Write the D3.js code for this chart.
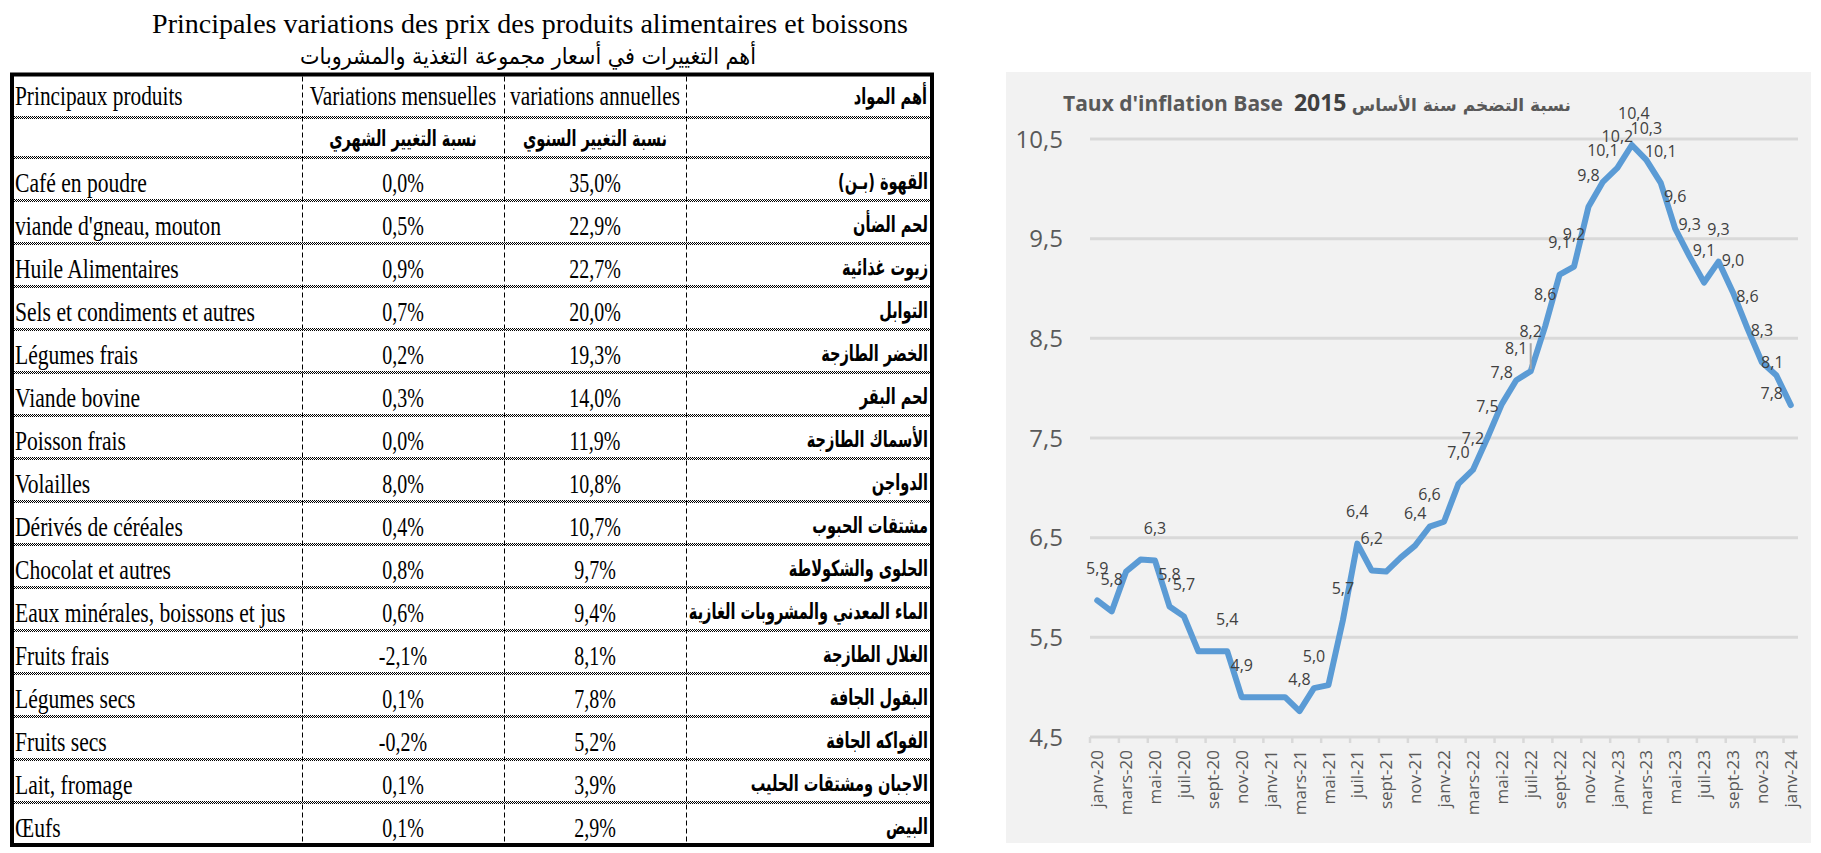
<!DOCTYPE html>
<html><head><meta charset="utf-8">
<script src="https://cdn.jsdelivr.net/npm/d3@7"></script>
<style>html,body{margin:0;padding:0;background:#fff;} svg{display:block;}</style>
</head><body><svg id="c" width="1821" height="853"></svg>
<script>
// ---------------- DATA ----------------
const titleFr = "Principales variations des prix des produits alimentaires et boissons";
const titleAr = "أهم التغييرات في أسعار مجموعة التغذية والمشروبات";
const headerFr = ["Principaux produits", "Variations mensuelles", "variations annuelles"];
const headerAr = ["أهم المواد", "نسبة التغيير الشهري", "نسبة التغيير السنوي"];
const productsFr = ["Café en poudre", "viande d'gneau, mouton", "Huile Alimentaires", "Sels et condiments et autres",
  "Légumes frais", "Viande bovine", "Poisson frais", "Volailles", "Dérivés de céréales", "Chocolat et autres",
  "Eaux minérales, boissons et jus", "Fruits frais", "Légumes secs", "Fruits secs", "Lait, fromage", "Œufs"];
const productsAr = ["القهوة (بـن)", "لحم الضأن", "زيوت غذائية", "التوابل", "الخضر الطازجة", "لحم البقر",
  "الأسماك الطازجة", "الدواجن", "مشتقات الحبوب", "الحلوى والشكولاطة", "الماء المعدني والمشروبات الغازية",
  "الغلال الطازجة", "البقول الجافة", "الفواكه الجافة", "الاجبان ومشتقات الحليب", "البيض"];
const monthlyChange = [0.0, 0.5, 0.9, 0.7, 0.2, 0.3, 0.0, 8.0, 0.4, 0.8, 0.6, -2.1, 0.1, -0.2, 0.1, 0.1];
const annualChange = [35.0, 22.9, 22.7, 20.0, 19.3, 14.0, 11.9, 10.8, 10.7, 9.7, 9.4, 8.1, 7.8, 5.2, 3.9, 2.9];

const chartTitleFr = "Taux d'inflation Base";
const chartTitleYear = "2015";
const chartTitleAr = "نسبة التضخم سنة الأساس";
const months = ["janv-20","févr-20","mars-20","avr-20","mai-20","juin-20","juil-20","août-20","sept-20","oct-20","nov-20","déc-20",
  "janv-21","févr-21","mars-21","avr-21","mai-21","juin-21","juil-21","août-21","sept-21","oct-21","nov-21","déc-21",
  "janv-22","févr-22","mars-22","avr-22","mai-22","juin-22","juil-22","août-22","sept-22","oct-22","nov-22","déc-22",
  "janv-23","févr-23","mars-23","avr-23","mai-23","juin-23","juil-23","août-23","sept-23","oct-23","nov-23","déc-23",
  "janv-24"];
const inflation = [5.87, 5.76, 6.16, 6.28, 6.27, 5.81, 5.71, 5.36, 5.36, 5.36, 4.90, 4.90,
  4.90, 4.90, 4.76, 4.99, 5.02, 5.67, 6.44, 6.17, 6.16, 6.30, 6.42, 6.61,
  6.66, 7.04, 7.18, 7.50, 7.84, 8.08, 8.17, 8.62, 9.14, 9.22, 9.82, 10.07,
  10.21, 10.44, 10.29, 10.06, 9.60, 9.32, 9.06, 9.27, 8.96, 8.60, 8.26, 8.13,
  7.83];
const labelledMonths = ["janv-20","févr-20","mai-20","juin-20","juil-20","oct-20","nov-20","mars-21","avr-21","juin-21","juil-21","août-21",
  "nov-21","déc-21","févr-22","mars-22","avr-22","mai-22","juin-22","juil-22","août-22","sept-22","oct-22","nov-22","déc-22",
  "janv-23","févr-23","mars-23","avr-23","mai-23","juin-23","juil-23","août-23","sept-23","oct-23","nov-23","déc-23","janv-24"];
const yTicks = [4.5, 5.5, 6.5, 7.5, 8.5, 9.5, 10.5];
const xTickLabels = months.filter((m, i) => i % 2 === 0);

// ---------------- LAYOUT ----------------
const svg = d3.select("#c");
svg.append("rect").attr("width", 1821).attr("height", 853).attr("fill", "#fff");
const fmt1 = v => v.toFixed(1).replace(".", ",");
const RLM = "\u200F";

const SERIF = "'Liberation Serif','Times New Roman',serif";
const ARAB = "'DejaVu Sans',sans-serif";
const SANS = "'Open Sans','Segoe UI',sans-serif";

function sText(g, x, y, str, anchor, sx, size, family, weight) {
  return g.append("text")
    .attr("transform", `translate(${x},${y}) scale(${sx},1)`)
    .attr("text-anchor", anchor)
    .attr("font-family", family)
    .attr("font-size", size)
    .attr("font-weight", weight || "normal")
    .attr("fill", "#000")
    .text(str);
}

// ---------- TABLE ----------
const tbl = svg.append("g");
const colX = [12, 302, 504, 686, 932];
const rowY = d3.scaleLinear().domain([0, productsFr.length]).range([157, 845]);
const headTop = 74.5, headMid = 116.5;

// titles
sText(tbl, 530, 33, titleFr, "middle", 1, 28, SERIF);
sText(tbl, 528, 64, titleAr + RLM, "middle", 0.9, 23, ARAB);

// horizontal dotted separators (checkerboard)
const sepYs = [headMid, rowY(0)].concat(d3.range(1, productsFr.length).map(i => rowY(i)));
sepYs.forEach(yy => {
  const y0 = Math.round(yy);
  [-1, 0, 1].forEach((k, j) => {
    tbl.append("line").attr("x1", colX[0]).attr("x2", colX[4])
      .attr("y1", y0 + k + 0.5).attr("y2", y0 + k + 0.5)
      .attr("stroke", "#000").attr("stroke-width", 1)
      .attr("stroke-dasharray", "1,1").attr("stroke-dashoffset", j % 2);
  });
});
// vertical dashed dividers
colX.slice(1, 4).forEach(xx => {
  tbl.append("line").attr("x1", xx + 0.5).attr("x2", xx + 0.5)
    .attr("y1", headTop + 2).attr("y2", rowY(productsFr.length) - 2)
    .attr("stroke", "#000").attr("stroke-width", 1).attr("stroke-dasharray", "5,3");
});
// outer border
tbl.append("rect").attr("x", colX[0]).attr("y", headTop)
  .attr("width", colX[4] - colX[0]).attr("height", rowY(productsFr.length) - headTop)
  .attr("fill", "none").attr("stroke", "#000").attr("stroke-width", 4);

const cMid = i => (colX[i] + colX[i + 1]) / 2;
const AR_SX = 0.66, AR_SIZE = 22;
// header
sText(tbl, colX[0] + 3, headTop + 30, headerFr[0], "start", 0.79, 27, SERIF);
sText(tbl, cMid(1), headTop + 30, headerFr[1], "middle", 0.79, 27, SERIF);
sText(tbl, cMid(2), headTop + 30, headerFr[2], "middle", 0.79, 27, SERIF);
sText(tbl, colX[4] - 5, headTop + 29, headerAr[0] + RLM, "end", AR_SX, AR_SIZE, ARAB, "bold");
sText(tbl, cMid(1), headMid + 29, headerAr[1] + RLM, "middle", AR_SX, AR_SIZE, ARAB, "bold");
sText(tbl, cMid(2), headMid + 29, headerAr[2] + RLM, "middle", AR_SX, AR_SIZE, ARAB, "bold");

// rows
productsFr.forEach((p, i) => {
  const top = rowY(i);
  sText(tbl, colX[0] + 3, top + 35, p, "start", 0.8, 27, SERIF);
  sText(tbl, cMid(1), top + 35, fmt1(monthlyChange[i]) + "%", "middle", 0.74, 27, SERIF);
  sText(tbl, cMid(2), top + 35, fmt1(annualChange[i]) + "%", "middle", 0.74, 27, SERIF);
  sText(tbl, colX[4] - 4, top + 32, productsAr[i] + RLM, "end", AR_SX, AR_SIZE, ARAB, "bold");
});

// ---------- CHART ----------
const ch = svg.append("g");
ch.append("rect").attr("x", 1006).attr("y", 72).attr("width", 805).attr("height", 771).attr("fill", "#f2f2f2");

const x = d3.scaleBand().domain(months).range([1090, 1798]).padding(0);
const y = d3.scaleLinear().domain([4.5, 10.5]).range([737, 139]);
const cx = m => x(m) + x.bandwidth() / 2;

// gridlines
ch.selectAll(".grid").data(yTicks).join("line")
  .attr("x1", 1090).attr("x2", 1798).attr("y1", d => y(d)).attr("y2", d => y(d))
  .attr("stroke", "#d9d9d9").attr("stroke-width", 3);
// x ticks (every two categories, at boundaries)
ch.selectAll(".xt").data(xTickLabels).join("line")
  .attr("x1", d => x(d)).attr("x2", d => x(d))
  .attr("y1", y(4.5)).attr("y2", y(4.5) + 6)
  .attr("stroke", "#d9d9d9").attr("stroke-width", 2.5);
// y labels
ch.selectAll(".yl").data(yTicks).join("text")
  .attr("x", 1063).attr("y", d => y(d)).attr("dy", "0.36em")
  .attr("text-anchor", "end").attr("font-family", SANS).attr("font-size", 24).attr("fill", "#595959")
  .text(d => fmt1(d));
// x labels
ch.selectAll(".xl").data(xTickLabels).join("text")
  .attr("transform", d => `translate(${cx(d)},${y(4.5) + 13}) rotate(-90)`)
  .attr("dy", "0.36em")
  .attr("text-anchor", "end").attr("font-family", SANS).attr("font-size", 17).attr("fill", "#595959")
  .text(d => d);

// line
ch.append("path").datum(months.map((m, i) => [m, inflation[i]]))
  .attr("fill", "none").attr("stroke", "#5b9bd5").attr("stroke-width", 6)
  .attr("stroke-linejoin", "round").attr("stroke-linecap", "round")
  .attr("d", d3.line().x(d => cx(d[0])).y(d => y(d[1])));

// data labels
const labelShift = { "juil-22": [0, -40], "févr-23": [2, -32], "déc-23": [-4, -13], "janv-24": [-19, -12] };
labelledMonths.forEach(m => {
  const i = months.indexOf(m);
  const off = labelShift[m] || [0, -32];
  const px = cx(m), py = y(inflation[i]);
  if (m === "juil-22") {
    ch.append("line").attr("x1", px).attr("x2", px).attr("y1", py + off[1] + 12).attr("y2", py - 2)
      .attr("stroke", "#a6a6a6").attr("stroke-width", 2);
  }
  ch.append("text").attr("x", px + off[0]).attr("y", py + off[1]).attr("dy", "0.36em")
    .attr("text-anchor", "middle").attr("font-family", SANS).attr("font-size", 16).attr("fill", "#404040")
    .text(fmt1(inflation[i]));
});

// chart title
const tt = ch.append("text").attr("x", 1063).attr("y", 111)
  .attr("font-family", SANS).attr("font-weight", "bold").attr("font-size", 21).attr("fill", "#595959");
tt.append("tspan").text(chartTitleFr + "\u00a0 ");
tt.append("tspan").attr("font-size", 23).attr("fill", "#404040").text(chartTitleYear);
ch.append("text").attr("x", 1571).attr("y", 111).attr("text-anchor", "end")
  .attr("font-family", ARAB).attr("font-weight", "bold").attr("font-size", 17).attr("fill", "#595959")
  .text(chartTitleAr + RLM);
</script>
</body></html>
